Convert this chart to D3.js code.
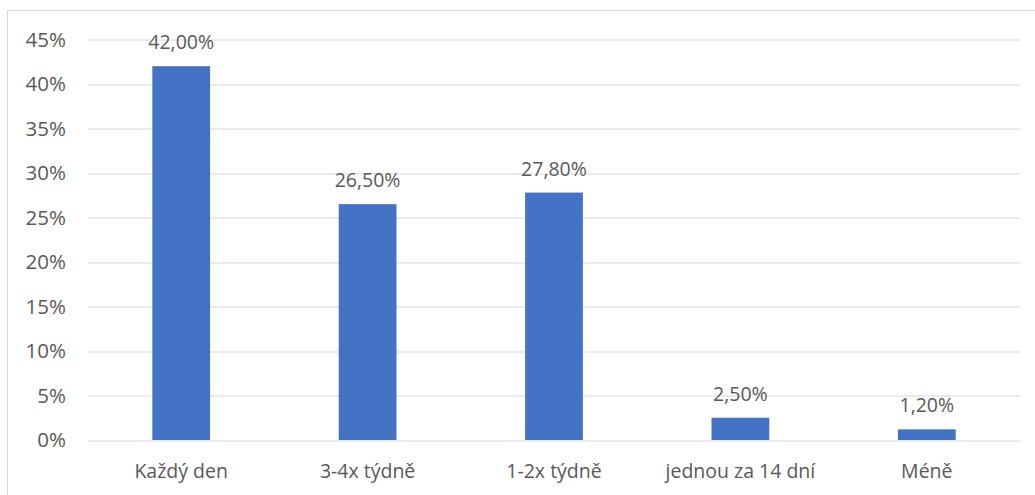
<!DOCTYPE html>
<html>
<head>
<meta charset="utf-8">
<script src="https://cdn.jsdelivr.net/npm/d3@7"></script>
<style>
  body { margin: 0; background: #fff; }
  svg text { font-family: "Open Sans", "Noto Sans", sans-serif; fill: #595959; }
</style>
</head>
<body>
<svg id="chart" width="1035" height="495"></svg>
<script>
// categories and values (percent)
const categories = ['Každý den', '3-4x týdně', '1-2x týdně', 'jednou za 14 dní', 'Méně'];
const values = [42.0, 26.5, 27.8, 2.5, 1.2];
const yTicks = [0, 5, 10, 15, 20, 25, 30, 35, 40, 45];

const svg = d3.select('#chart');
const margin = {top: 39.5, right: 15, bottom: 55, left: 88};
const width = 1035 - margin.left - margin.right;
const height = 495 - margin.top - margin.bottom;

// chart border
svg.append('rect')
  .attr('x', 7.5).attr('y', 10.5)
  .attr('width', 1040).attr('height', 500)
  .attr('fill', 'none')
  .attr('stroke', '#d9d9d9');

const g = svg.append('g')
  .attr('transform', 'translate(' + margin.left + ',' + margin.top + ')');

const x = d3.scaleBand()
  .domain(categories)
  .range([0, width])
  .paddingInner(0.69)
  .paddingOuter(0.345);

const y = d3.scaleLinear()
  .domain([0, 45])
  .range([height, 0]);

// gridlines
g.selectAll('.grid')
  .data(yTicks)
  .enter().append('line')
  .attr('class', 'grid')
  .attr('x1', 0).attr('x2', width)
  .attr('y1', (d) => Math.round(y(d)) + 0.5)
  .attr('y2', (d) => Math.round(y(d)) + 0.5)
  .attr('stroke', '#d9d9d9')
  .attr('stroke-width', 1);

// y tick labels
g.selectAll('.ytick')
  .data(yTicks)
  .enter().append('text')
  .attr('class', 'ytick')
  .attr('x', -22)
  .attr('y', (d) => y(d))
  .attr('dy', '0.35em')
  .attr('text-anchor', 'end')
  .style('font-size', '20.5px')
  .text((d) => d + '%');

// bars
g.selectAll('.bar')
  .data(values)
  .enter().append('rect')
  .attr('class', 'bar')
  .attr('x', (d, i) => x(categories[i]))
  .attr('width', x.bandwidth())
  .attr('y', (d) => y(d))
  .attr('height', (d) => height - y(d))
  .attr('fill', '#4472c4');

// data labels
g.selectAll('.dlabel')
  .data(values)
  .enter().append('text')
  .attr('class', 'dlabel')
  .attr('x', (d, i) => x(categories[i]) + x.bandwidth() / 2)
  .attr('y', (d) => y(d) - 17)
  .attr('text-anchor', 'middle')
  .style('font-size', '19.5px')
  .text((d) => d.toFixed(2).replace('.', ',') + '%');

// category labels
g.selectAll('.xtick')
  .data(categories)
  .enter().append('text')
  .attr('class', 'xtick')
  .attr('x', (d) => x(d) + x.bandwidth() / 2)
  .attr('y', height + 38)
  .attr('text-anchor', 'middle')
  .style('font-size', '19.5px')
  .text((d) => d);
</script>
</body>
</html>
